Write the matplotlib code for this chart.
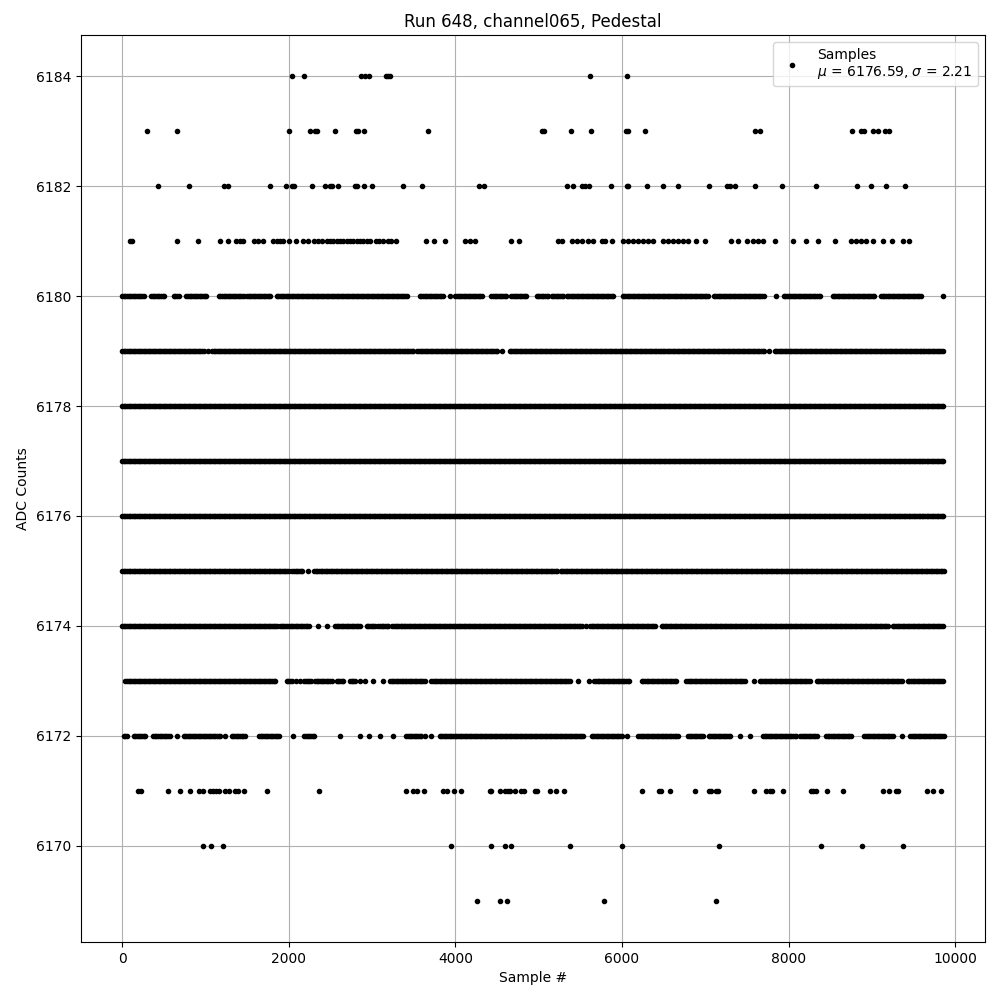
import numpy as np
import matplotlib
matplotlib.use("Agg")
from matplotlib import pyplot as plt

# sparse ADC levels: sample numbers
x_6184 = [2040, 2183, 2866, 2914, 2962, 3165, 3193, 3217, 5620, 6063]
x_6183 = [303, 662, 2004, 2255, 2315, 2343, 2555, 2811, 2830, 2907, 3673,
          5038, 5066, 5393, 5632, 6048, 6075, 6279, 7593, 7653, 8758, 8871,
          8910, 9010, 9069, 9162, 9210]
x_6182 = [435, 806, 1225, 1269, 1776, 1968, 2036, 2068, 2280, 2435, 2495,
          2523, 2590, 2794, 2818, 2898, 2998, 3369, 3597, 4287, 4339,
          5345, 5409, 5525, 5561, 5601, 5872, 6056, 6076, 6296, 6495, 6675,
          7046, 7261, 7293, 7357, 7597, 7920, 8327, 8818, 8986, 9165, 9393]
x_6181 = [100, 120, 663, 910, 1174, 1266, 1369, 1417, 1457, 1589, 1637, 1697,
          1816, 1856, 1896, 1936, 2004, 2084, 2176, 2228, 2303, 2355, 2403,
          2455, 2495, 2535, 2575, 2615, 2655, 2695, 2735, 2775, 2815, 2855,
          2894, 2934, 2974, 3042, 3086, 3134, 3186, 3226, 3289, 3653, 3740,
          3872, 4112, 4172, 4232, 4671, 4763,
          5229, 5277, 5397, 5457, 5517, 5597, 5656, 5756, 5796, 5876, 6016,
          6076, 6136, 6195, 6255, 6315, 6375, 6495, 6555, 6615, 6675, 6734,
          6794, 6894, 7002, 7313, 7393, 7501, 7573, 7633, 7692, 7836, 8052,
          8211, 8351, 8559, 8750, 8810, 8870, 8930, 9010, 9137, 9237, 9369,
          9449]
x_6171 = [192, 232, 551, 699, 818, 918, 966, 1050, 1090, 1126, 1158, 1230,
          1285, 1357, 1397, 1465, 1737, 2363, 3405, 3493, 3545, 3621, 3852,
          3904, 3984, 4072, 4411, 4431, 4531, 4599, 4631, 4651, 4711, 4783,
          4822, 4958, 4978, 5138, 5209, 5309, 6235, 6447, 6463, 6579, 6882,
          7042, 7074, 7126, 7153, 7585, 7732, 7772, 7804, 7932, 8271, 8299,
          8331, 8459, 8650, 9130, 9201, 9289, 9317, 9668, 9740, 9836]
x_6170 = [970, 1066, 1214, 3952, 4423, 4591, 4663, 5381, 6004, 7166, 8387,
          8878, 9369]
x_6169 = [4256, 4539, 4619, 5788, 7130]

# dense ADC levels: runs of consecutive samples (first, last)
runs_6180 = [(0, 268), (347, 507), (619, 687), (771, 1018), (1158, 1469),
             (1501, 1796), (1856, 3433), (3573, 3864), (3940, 3940),
             (4000, 4331), (4431, 4611), (4671, 4870), (4978, 5118),
             (5157, 5297), (5337, 5904), (6008, 6575), (6595, 7054),
             (7102, 7712), (7844, 7844), (7940, 8391), (8531, 9050),
             (9110, 9601), (9860, 9860)]
runs_6179 = [(0, 990), (1030, 1030), (1078, 3513), (3545, 4511), (4559, 4559),
             (4651, 7712), (7764, 7764), (7832, 9868)]
runs_6178 = [(0, 9868)]
runs_6177 = [(0, 9868)]
runs_6176 = [(0, 9868)]
runs_6175 = [(0, 2016), (2044, 2164), (2236, 2236), (2303, 5237), (5265, 9868)]
runs_6174 = [(0, 1876), (1896, 1976), (2004, 2256), (2347, 2347), (2455, 2455),
             (2555, 2874), (2934, 3034), (3074, 3202), (3242, 5529),
             (5569, 5569), (5617, 6415), (6475, 9209), (9249, 9868)]
runs_6173 = [(40, 1856), (1976, 2036), (2084, 2084), (2136, 2136), (2188, 2275),
             (2315, 2515), (2575, 2655), (2735, 2795), (2854, 2854),
             (2914, 2914), (3014, 3014), (3134, 3134), (3214, 3653),
             (3713, 5377), (5477, 5477), (5609, 5609), (5668, 6088),
             (6235, 6674), (6774, 7493), (7581, 7581), (7652, 8271),
             (8339, 9361), (9429, 9868)]
runs_6172 = [(20, 60), (140, 280), (371, 579), (659, 659), (739, 1198),
             (1238, 1238), (1317, 1485), (1645, 1896), (2048, 2048),
             (2188, 2315), (2615, 2615), (2854, 2854), (2962, 2962),
             (3094, 3094), (3254, 3254), (3413, 3593), (3633, 3633),
             (3713, 3713), (3812, 5537), (5637, 6016), (6064, 6064),
             (6195, 6694), (6794, 6974), (7042, 7313), (7413, 7413),
             (7533, 7533), (7692, 8092), (8140, 8351), (8451, 8770),
             (8910, 9269), (9361, 9361), (9461, 9868)]

sparse = {6184: x_6184, 6183: x_6183, 6182: x_6182, 6181: x_6181,
          6171: x_6171, 6170: x_6170, 6169: x_6169}
dense = {6180: runs_6180, 6179: runs_6179, 6178: runs_6178, 6177: runs_6177,
         6176: runs_6176, 6175: runs_6175, 6174: runs_6174, 6173: runs_6173,
         6172: runs_6172}

xs, ys = [], []
for level, pts in sparse.items():
    xs += pts
    ys += [level] * len(pts)
for level, runs in dense.items():
    for a, b in runs:
        seg = list(range(a, b + 1, 20)) if b > a else [a]
        xs += seg
        ys += [level] * len(seg)

order = np.argsort(xs, kind="stable")
xs = np.array(xs)[order]
ys = np.array(ys)[order]

fig = plt.figure(figsize=(10, 10), dpi=100)
ax = fig.add_subplot(111)
ax.plot(xs, ys, 'k.', linestyle='none',
        label='Samples\n$\\mu$ = 6176.59, $\\sigma$ = 2.21')
ax.set_title('Run 648, channel065, Pedestal')
ax.set_xlabel('Sample #')
ax.set_ylabel('ADC Counts')
ax.ticklabel_format(useOffset=False)
ax.grid(True)
ax.legend(loc='upper right')
fig.subplots_adjust(left=0.081, right=0.985, bottom=0.058, top=0.965)
fig.savefig('out.png')
